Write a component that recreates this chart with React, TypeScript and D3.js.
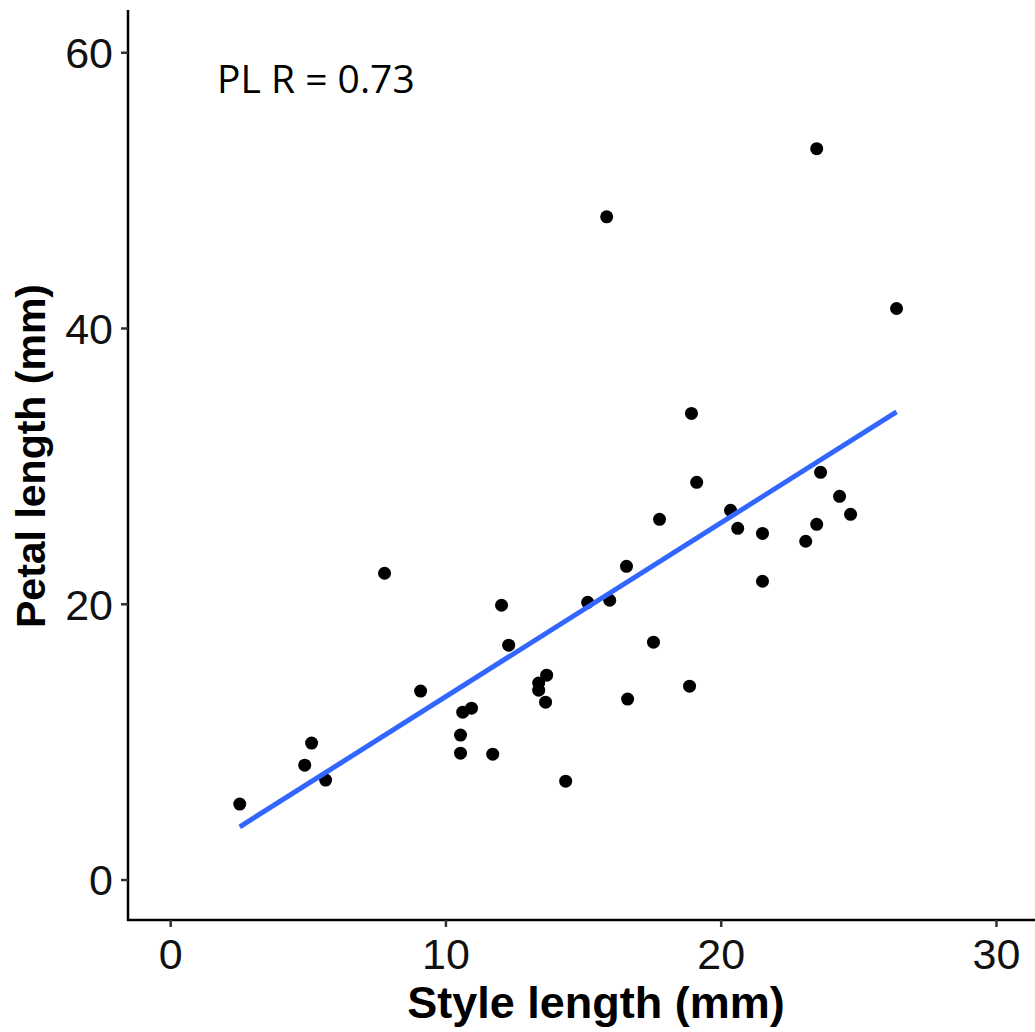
import React from "react";
import * as d3 from "d3";

const styleLength = [
  2.51, 4.87, 5.12, 5.63, 7.77, 9.08, 10.53, 10.53, 10.61, 10.93, 11.7, 12.02, 12.28,
  13.37, 13.37, 13.66, 13.62, 14.35, 15.15, 15.84, 15.95, 16.56, 16.6, 17.54, 17.76,
  18.85, 18.92, 19.11, 20.34, 20.6, 21.5, 21.5, 23.07, 23.47, 23.47, 23.61, 24.3, 24.7, 26.37,
];
const petalLength = [
  5.51, 8.33, 9.93, 7.25, 22.25, 13.7, 10.51, 9.2, 12.17, 12.46, 9.13, 19.93, 17.03,
  14.28, 13.77, 14.86, 12.9, 7.17, 20.14, 48.1, 20.29, 22.75, 13.12, 17.25, 26.16,
  14.06, 33.84, 28.84, 26.81, 25.51, 25.14, 21.67, 24.57, 53.04, 25.8, 29.57, 27.83, 26.52, 41.45,
];
const xTicks = [0, 10, 20, 30];
const yTicks = [0, 20, 40, 60];
const annotation = "PL R = 0.73";
const xTitle = "Style length (mm)";
const yTitle = "Petal length (mm)";

export default function App() {
  const W = 1035;
  const H = 1032;
  const left = 128;
  const right = 1035;
  const top = 10;
  const bottom = 920;

  const x = d3.scaleLinear().domain([-1.55, 31.4]).range([left, right]);
  const y = d3.scaleLinear().domain([-2.9, 63.1]).range([bottom, top]);

  const pts = styleLength.map((v, i) => ({ x: v, y: petalLength[i] }));
  const mx = d3.mean(pts, (p) => p.x) as number;
  const my = d3.mean(pts, (p) => p.y) as number;
  let sxy = 0;
  let sxx = 0;
  pts.forEach((p) => {
    sxy += (p.x - mx) * (p.y - my);
    sxx += (p.x - mx) * (p.x - mx);
  });
  const slope = sxy / sxx;
  const intercept = my - slope * mx;
  const [xmin, xmax] = d3.extent(styleLength) as [number, number];
  const fitLine = d3
    .line<number>()
    .x((v) => x(v))
    .y((v) => y(intercept + slope * v));

  const tickFont = "'Liberation Sans', Arial, sans-serif";

  return (
    <svg
      width={W}
      height={H}
      style={{ position: "absolute", left: 0, top: 0, background: "#fff" }}
    >
      <rect x={0} y={0} width={W} height={H} fill="#fff" />
      {/* axes */}
      <line x1={left} x2={left} y1={top} y2={bottom + 1} stroke="#000" strokeWidth={2.5} />
      <line x1={left - 1} x2={right} y1={bottom} y2={bottom} stroke="#000" strokeWidth={2.5} />
      {yTicks.map((t) => (
        <g key={"y" + t}>
          <line x1={left - 7} x2={left} y1={y(t)} y2={y(t)} stroke="#333" strokeWidth={2.5} />
          <text
            x={left - 15}
            y={y(t)}
            dy="0.36em"
            textAnchor="end"
            fontFamily={tickFont}
            fontSize={43}
            fill="#111"
          >
            {t}
          </text>
        </g>
      ))}
      {xTicks.map((t) => (
        <g key={"x" + t}>
          <line x1={x(t)} x2={x(t)} y1={bottom} y2={bottom + 7} stroke="#333" strokeWidth={2.5} />
          <text
            x={x(t)}
            y={969}
            textAnchor="middle"
            fontFamily={tickFont}
            fontSize={43}
            fill="#111"
          >
            {t}
          </text>
        </g>
      ))}
      {/* titles */}
      <text
        x={596}
        y={1018}
        textAnchor="middle"
        fontFamily={tickFont}
        fontWeight="bold"
        fontSize={45}
        fill="#000"
      >
        {xTitle}
      </text>
      <text
        transform={`translate(45, 456) rotate(-90)`}
        textAnchor="middle"
        fontFamily={tickFont}
        fontWeight="bold"
        fontSize={41}
        fill="#000"
      >
        {yTitle}
      </text>
      {/* points */}
      {pts.map((p, i) => (
        <circle key={i} cx={x(p.x)} cy={y(p.y)} r={6.5} fill="#000" />
      ))}
      {/* fit */}
      <path
        d={fitLine([xmin, xmax]) || ""}
        fill="none"
        stroke="#3366FF"
        strokeWidth={5}
      />
      {/* annotation */}
      <text
        x={217}
        y={93}
        fontFamily="'Open Sans', 'Noto Sans', sans-serif"
        fontSize={39}
        fill="#000"
      >
        {annotation}
      </text>
    </svg>
  );
}
